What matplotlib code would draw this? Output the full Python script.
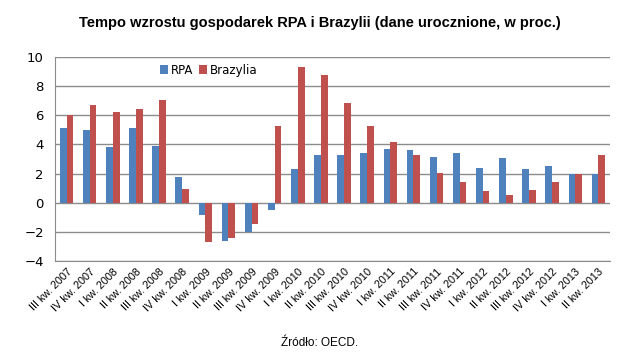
import matplotlib.pyplot as plt
import numpy as np

quarters = ["III kw. 2007", "IV kw. 2007",
            "I kw. 2008", "II kw. 2008", "III kw. 2008", "IV kw. 2008",
            "I kw. 2009", "II kw. 2009", "III kw. 2009", "IV kw. 2009",
            "I kw. 2010", "II kw. 2010", "III kw. 2010", "IV kw. 2010",
            "I kw. 2011", "II kw. 2011", "III kw. 2011", "IV kw. 2011",
            "I kw. 2012", "II kw. 2012", "III kw. 2012", "IV kw. 2012",
            "I kw. 2013", "II kw. 2013"]

rpa = [5.1, 5.0, 3.8, 5.1, 3.9, 1.8, -0.85, -2.65, -2.0, -0.5, 2.3, 3.3,
       3.3, 3.4, 3.7, 3.6, 3.15, 3.4, 2.35, 3.1, 2.3, 2.5, 1.95, 1.95]
brazylia = [6.0, 6.7, 6.25, 6.45, 7.05, 0.95, -2.7, -2.4, -1.45, 5.3, 9.3, 8.75,
            6.85, 5.3, 4.2, 3.3, 2.05, 1.4, 0.8, 0.55, 0.9, 1.4, 1.95, 3.3]

blue = "#4F81BD"
red = "#C0504D"

fig = plt.figure(figsize=(6.4, 3.52), dpi=100)
ax = fig.add_axes([0.086, 0.2585, 0.867, 0.5795])

x = np.arange(len(quarters))
w = 0.29
ax.bar(x - w / 2, rpa, w, color=blue, label="RPA", zorder=3)
ax.bar(x + w / 2, brazylia, w, color=red, label="Brazylia", zorder=3)

ax.set_ylim(-4, 10)
ax.set_yticks(range(-4, 11, 2))
ax.set_xlim(-0.5, len(quarters) - 0.5)
ax.yaxis.grid(True, color="#8c8c8c", linewidth=1, zorder=0)

for s in ["top", "right"]:
    ax.spines[s].set_visible(False)
ax.spines["left"].set_color("#8c8c8c")
ax.spines["bottom"].set_color("#8c8c8c")

ax.set_xticks(x)
ax.set_xticklabels(quarters, rotation=45, ha="right", rotation_mode="anchor",
                   fontsize=7.8, family="Liberation Sans")
ax.tick_params(axis="both", length=0)
ax.tick_params(axis="x", pad=4)
ax.tick_params(axis="y", labelsize=9.5, pad=8)

ax.legend(loc="upper left", bbox_to_anchor=(0.17, 1.02), ncol=2, frameon=False,
          fontsize=8.5, handlelength=0.7, handleheight=0.7, handletextpad=0.2,
          columnspacing=0.5)

fig.text(0.5, 0.935, "Tempo wzrostu gospodarek RPA i Brazylii (dane urocznione, w proc.)",
         ha="center", va="center", fontsize=10.5, fontweight="bold",
         family="Liberation Sans")
fig.text(0.5, 0.026, "Źródło: OECD.", ha="center", va="center", fontsize=8.5,
         family="Liberation Sans")

fig.savefig("out.png", dpi=100)
